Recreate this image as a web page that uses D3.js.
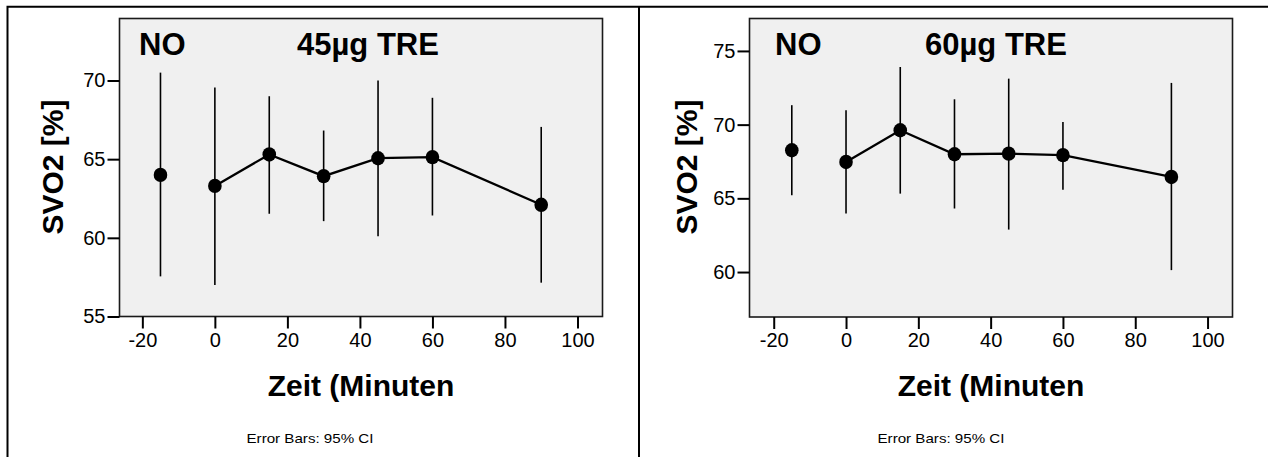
<!DOCTYPE html>
<html lang="en">
<head>
    <meta charset="UTF-8">
    <title>SVO2 NO 45/60 TRE</title>
    <style>
        body { margin: 0; background: #fff; }
        text { font-family: Arial, "Liberation Sans", sans-serif; fill: #000; }
        .frame { stroke: #000; stroke-width: 2; fill: none; }
        .plotbg { fill: #f0f0f0; stroke: #1a1a1a; stroke-width: 1.6; }
        .axis path { display: none; }
        .axis line { stroke: #000; stroke-width: 2; }
        .axis text { font-size: 20px; }
        .title { font-size: 31px; font-weight: bold; }
        .axtitle { font-size: 30px; font-weight: bold; }
        .note { font-size: 13px; }
        .errbar { stroke: #000; stroke-width: 1.6; }
        .line { fill: none; stroke: #000; stroke-width: 2.3; }
        .dot { fill: #000; }
    </style>
</head>
<body>
    <script src="https://d3js.org/d3.v7.min.js"></script>
    <script>
        // data
        const times = [-15, 0, 15, 30, 45, 60, 90];
        const xTicks = [-20, 0, 20, 40, 60, 80, 100];

        const mean45 = [64.0, 63.3, 65.3, 63.92, 65.06, 65.13, 62.1];
        const upper45 = [70.5, 69.55, 69.0, 66.82, 70.0, 68.9, 67.05];
        const lower45 = [57.55, 57.0, 61.53, 61.06, 60.1, 61.42, 57.15];
        const yTicks45 = [55, 60, 65, 70];

        const mean60 = [68.26, 67.47, 69.62, 67.99, 68.03, 67.93, 66.45];
        const upper60 = [71.32, 70.98, 73.91, 71.72, 73.12, 70.18, 72.83];
        const lower60 = [65.21, 63.97, 65.32, 64.31, 62.88, 65.59, 60.13];
        const yTicks60 = [60, 65, 70, 75];

        const width = 1268;
        const height = 457;

        const svg = d3.select('body')
            .append('svg')
            .attr('width', width)
            .attr('height', height);

        // outer frame: top rule, left rule, divider
        svg.append('path')
            .attr('class', 'frame')
            .attr('d', `M7.5,${height} V6.7 H${width} M639,6.7 V${height}`);

        // plain hyphen for negatives, like the original
        const fmt = (d) => String(d);

        function drawPanel(p) {
            const x = d3.scaleLinear().domain(p.xDomain).range([p.left, p.right]);
            const y = d3.scaleLinear().domain(p.yDomain).range([p.bottom, p.top]);

            svg.append('rect')
                .attr('class', 'plotbg')
                .attr('x', p.left)
                .attr('y', p.top)
                .attr('width', p.right - p.left)
                .attr('height', p.bottom - p.top);

            svg.append('g')
                .attr('class', 'axis')
                .attr('transform', `translate(0,${p.bottom})`)
                .call(d3.axisBottom(x).tickValues(xTicks).tickFormat(fmt).tickSize(12).tickPadding(4).tickSizeOuter(0));

            svg.append('g')
                .attr('class', 'axis')
                .attr('transform', `translate(${p.left},0)`)
                .call(d3.axisLeft(y).tickValues(p.yTicks).tickFormat(fmt).tickSize(12).tickPadding(2).tickSizeOuter(0));

            const rows = times.map((t, i) => ({ t: t, m: p.mean[i], lo: p.lower[i], hi: p.upper[i] }));

            // error bars (95% CI)
            svg.append('g')
                .selectAll('line')
                .data(rows)
                .enter()
                .append('line')
                .attr('class', 'errbar')
                .attr('x1', (d) => x(d.t))
                .attr('x2', (d) => x(d.t))
                .attr('y1', (d) => y(d.lo))
                .attr('y2', (d) => y(d.hi));

            // line joins the points from time 0 on
            const line = d3.line()
                .x((d) => x(d.t))
                .y((d) => y(d.m));

            svg.append('path')
                .datum(rows.filter((d) => d.t >= 0))
                .attr('class', 'line')
                .attr('d', line);

            svg.append('g')
                .selectAll('ellipse')
                .data(rows)
                .enter()
                .append('ellipse')
                .attr('class', 'dot')
                .attr('cx', (d) => x(d.t))
                .attr('cy', (d) => y(d.m))
                .attr('rx', 6.8)
                .attr('ry', 7.2);

            // labels inside the plot
            svg.append('text')
                .attr('class', 'title')
                .attr('x', p.noX)
                .attr('y', 55)
                .text('NO');
            svg.append('text')
                .attr('class', 'title')
                .attr('x', p.doseX)
                .attr('y', 55)
                .text(p.dose);

            svg.append('text')
                .attr('class', 'axtitle')
                .attr('transform', `translate(${p.yTitleX},167) rotate(-90)`)
                .attr('text-anchor', 'middle')
                .text('SVO2 [%]');

            svg.append('text')
                .attr('class', 'axtitle')
                .attr('x', (p.left + p.right) / 2)
                .attr('y', 396)
                .attr('text-anchor', 'middle')
                .text('Zeit (Minuten');

            svg.append('text')
                .attr('class', 'note')
                .attr('x', p.noteX)
                .attr('y', 443)
                .attr('text-anchor', 'middle')
                .attr('textLength', 127)
                .attr('lengthAdjust', 'spacingAndGlyphs')
                .text('Error Bars: 95% CI');
        }

        drawPanel({
            left: 119.5, right: 602.5, top: 18.5, bottom: 316.5,
            xDomain: [-26.3, 106.9], yDomain: [55, 73.94], yTicks: yTicks45,
            mean: mean45, lower: lower45, upper: upper45,
            noX: 139, doseX: 297, dose: '45µg TRE',
            yTitleX: 63, noteX: 310
        });

        drawPanel({
            left: 749.5, right: 1232.5, top: 18.5, bottom: 317,
            xDomain: [-26.7, 106.9], yDomain: [56.95, 77.2], yTicks: yTicks60,
            mean: mean60, lower: lower60, upper: upper60,
            noX: 775, doseX: 925, dose: '60µg TRE',
            yTitleX: 697, noteX: 941
        });
    </script>
</body>
</html>
